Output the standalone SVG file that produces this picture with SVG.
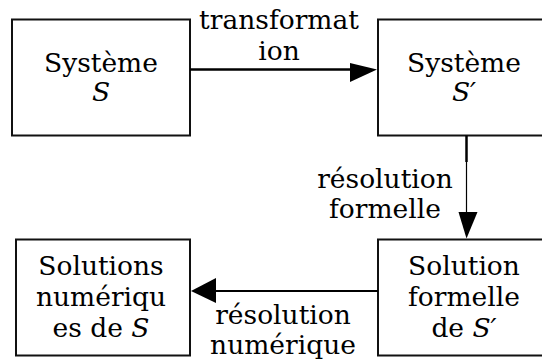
<svg xmlns="http://www.w3.org/2000/svg" width="542" height="360" viewBox="0 0 542 360">
  <style>
    .box { fill: #ffffff; stroke: #111111; stroke-width: 2; }
    .lbl { font-family: "DejaVu Serif", "Liberation Serif", serif; font-size: 26.5px; fill: #000000; text-anchor: middle; }
    .it { font-style: italic; }
    .wire { stroke: #000000; fill: none; }
    .head { fill: #000000; stroke: none; }
  </style>
  <rect width="542" height="360" fill="#ffffff"/>

  <g id="systeme-s">
    <rect class="box" x="12" y="19.5" width="178" height="116"/>
    <text class="lbl" x="101" y="72">Système</text>
    <text class="lbl it" x="101" y="101">S</text>
  </g>

  <g id="systeme-s-prime">
    <rect class="box" x="378" y="19.5" width="180" height="116"/>
    <text class="lbl" x="464" y="72">Système</text>
    <text class="lbl it" x="464" y="101">S′</text>
  </g>

  <g id="solutions-numeriques">
    <rect class="box" x="16" y="239.5" width="174" height="116"/>
    <text class="lbl" x="101" y="275">Solutions</text>
    <text class="lbl" x="101" y="306">numériqu</text>
    <text class="lbl" x="101" y="337">es de <tspan class="it">S</tspan></text>
  </g>

  <g id="solution-formelle">
    <rect class="box" x="378" y="239.5" width="180" height="116"/>
    <text class="lbl" x="464" y="275">Solution</text>
    <text class="lbl" x="464" y="306">formelle</text>
    <text class="lbl" x="464" y="337">de <tspan class="it">S′</tspan></text>
  </g>

  <g id="connectors">
    <!-- transformation: S to S' -->
    <line class="wire" x1="190" y1="69.5" x2="351" y2="69.5" stroke-width="2.5"/>
    <polygon class="head" points="350,63 377,69.5 350,82"/>
    <!-- formal resolution: S' down to formal solution -->
    <line class="wire" x1="466.5" y1="135.5" x2="466.5" y2="162" stroke-width="2.5"/>
    <line class="wire" x1="466.5" y1="162" x2="466.5" y2="213" stroke-width="1.2"/>
    <polygon class="head" points="458.5,212 477.5,212 466.5,238.5"/>
    <!-- numerical resolution: formal solution to numerical solutions -->
    <line class="wire" x1="378" y1="291" x2="215" y2="291" stroke-width="2.2"/>
    <polygon class="head" points="216,278 216,303 191,291"/>
  </g>

  <g id="edge-labels">
    <text class="lbl" x="279" y="29">transformat</text>
    <text class="lbl" x="279" y="60">ion</text>
    <text class="lbl" x="385" y="188">résolution</text>
    <text class="lbl" x="385" y="218">formelle</text>
    <text class="lbl" x="283" y="324">résolution</text>
    <text class="lbl" x="283" y="354">numérique</text>
  </g>
</svg>
